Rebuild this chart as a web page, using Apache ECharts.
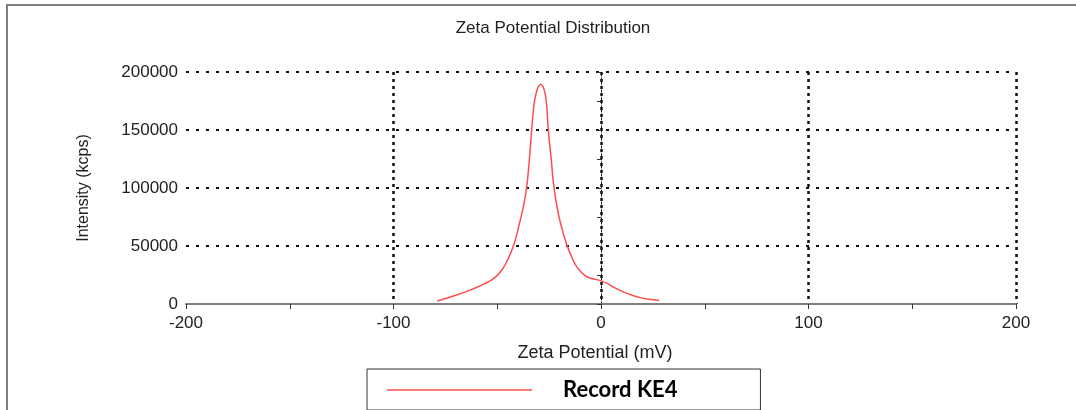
<!DOCTYPE html>
<html>
<head>
<meta charset="utf-8">
<script src="https://cdn.jsdelivr.net/npm/echarts@6/dist/echarts.min.js"></script>
<style>
  html, body { margin: 0; padding: 0; background: #fff; }
  #chart { width: 1076px; height: 410px; }
</style>
</head>
<body>
<div id="chart"></div>
<script>
// zeta potential (mV) and intensity (kcps)
const zeta = [-79, -70, -63, -56, -51, -47.5, -45, -42, -39.5, -37.4, -35.8, -34.5, -33.4, -32.3, -31.2, -30.2, -29.1,
  -28, -27, -26.2, -25.4, -24, -22.7, -20.6, -18.5, -16.5, -14, -11.7, -9, -6.9, -4, -2, 0, 2.7, 6, 10.7, 15, 18.8, 23, 28];
const intensity = [2500, 7500, 12000, 17500, 23000, 30000, 38000, 51000, 68000, 84000, 101000, 125000, 150000, 172000, 182000, 187500, 189500,
  187500, 182000, 172000, 150000, 125000, 101000, 78000, 63000, 51000, 40000, 32000, 26500, 23500, 21800, 21000, 20000, 18000, 14500, 10500, 7500, 5500, 4000, 3000];
const seriesName = "Record KE4";
const xTicks = [-200, -100, 0, 100, 200];
const yTicks = [0, 50000, 100000, 150000, 200000];

const font = "Liberation Sans";
let chart = echarts.init(document.getElementById("chart"));

chart.setOption({
  animation: false,
  title: {
    text: "Zeta Potential Distribution",
    left: 548,
    top: 15,
    textAlign: "center",
    textStyle: { fontFamily: font, fontSize: 17, fontWeight: "normal", color: "#222" }
  },
  graphic: [
    {
      type: "rect",
      shape: { x: 7, y: 5, width: 1100, height: 430 },
      style: { fill: "none", stroke: "#7f7f7f", lineWidth: 2 },
      silent: true
    }
  ],
  legend: {
    left: 367,
    top: 369,
    orient: "horizontal",
    borderColor: "#333",
    borderWidth: 1,
    padding: [10, 83, 9, 20],
    itemWidth: 145,
    itemHeight: 1.5,
    textStyle: {
      fontFamily: "Lato",
      fontWeight: "bold",
      fontSize: 22,
      color: "#000",
      lineHeight: 21,
      padding: [0, 0, 0, 26]
    },
    data: [{ name: seriesName, icon: "rect" }]
  },
  grid: { left: 186, right: 60, top: 72, bottom: 106 },
  xAxis: {
    type: "value",
    min: xTicks[0],
    max: xTicks[xTicks.length - 1],
    interval: 100,
    name: "Zeta Potential (mV)",
    nameLocation: "middle",
    nameGap: 40,
    nameTextStyle: { fontFamily: font, fontSize: 18, color: "#222", padding: [0, 12, 0, 0] },
    axisLine: { show: true, lineStyle: { color: "#7f7f7f", width: 2 } },
    axisTick: { show: true, length: 5, lineStyle: { color: "#333" } },
    minorTick: { show: true, splitNumber: 2, length: 5, lineStyle: { color: "#333", width: 1 } },
    axisLabel: { fontFamily: font, fontSize: 17, color: "#222", margin: 11 },
    splitLine: {
      show: true,
      showMinLine: false,
      lineStyle: { color: "#111", width: 2.5, type: [3, 4] }
    }
  },
  yAxis: {
    type: "value",
    min: yTicks[0],
    max: yTicks[yTicks.length - 1],
    interval: 50000,
    name: "Intensity (kcps)",
    nameLocation: "middle",
    nameGap: 94,
    nameTextStyle: { fontFamily: font, fontSize: 16, color: "#222" },
    axisLine: { show: true, lineStyle: { color: "#111", width: 1, type: [2, 2] } },
    axisTick: { show: true, length: 4, lineStyle: { color: "#333" } },
    minorTick: { show: true, splitNumber: 2, length: 4, lineStyle: { color: "#333", width: 1 } },
    axisLabel: { fontFamily: font, fontSize: 17, color: "#222", margin: 8, formatter: v => String(v) },
    splitLine: {
      show: true,
      showMinLine: false,
      lineStyle: { color: "#111", width: 2, type: [3, 7] }
    }
  },
  series: [
    {
      name: seriesName,
      type: "line",
      data: zeta.map((z, i) => [z, intensity[i]]),
      smooth: 0.4,
      symbol: "none",
      lineStyle: { color: "#ff4d4d", width: 1.5 },
      itemStyle: { color: "#ff4d4d" }
    }
  ]
});
</script>
</body>
</html>
